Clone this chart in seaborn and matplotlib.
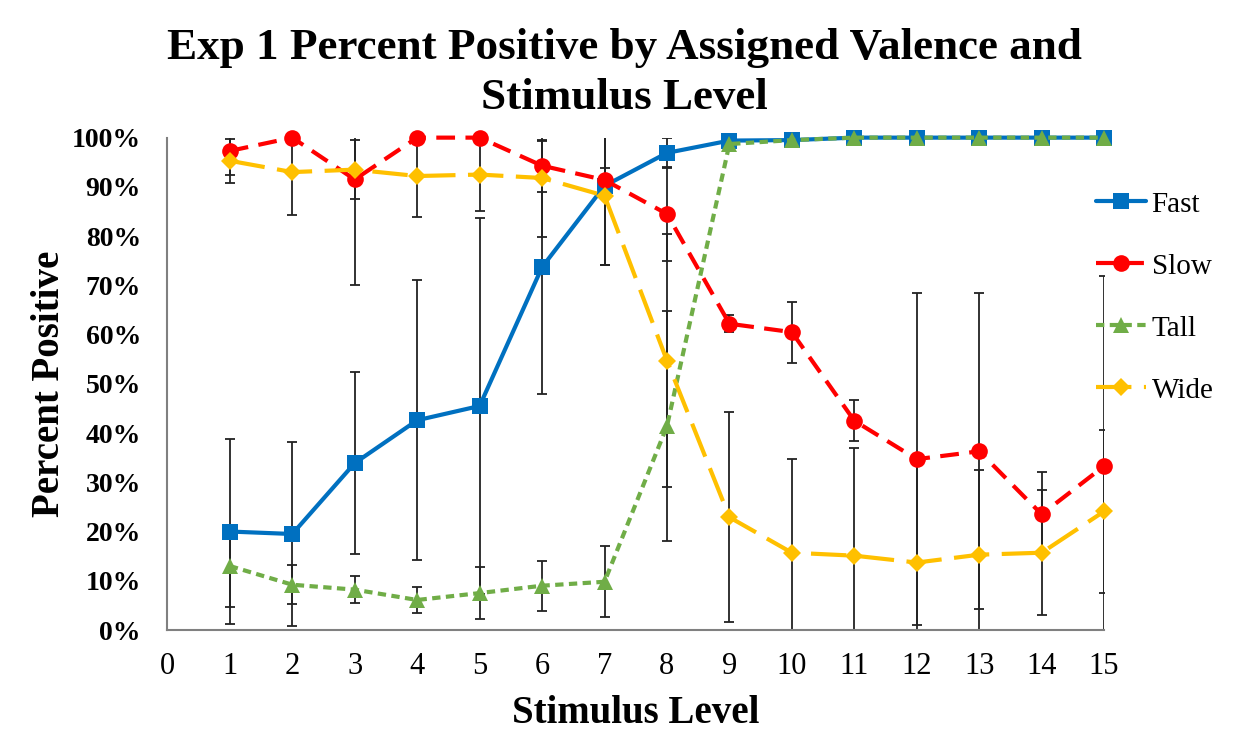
import matplotlib
matplotlib.use("Agg")
import matplotlib.pyplot as plt
import matplotlib.ticker as mtick
import numpy as np
import pandas as pd
import seaborn as sns

sns.set_style("white")
plt.rcParams["font.family"] = ["Liberation Serif", "DejaVu Serif"]
plt.rcParams.update({"text.color": "black", "axes.labelcolor": "black",
                     "xtick.color": "black", "ytick.color": "black"})

levels = list(range(1, 16))

fast = [20.0, 19.5, 33.9, 42.6, 45.5, 73.7, 90.2, 96.9, 99.4, 99.5, 100, 100, 100, 100, 100]
slow = [97.3, 100, 91.5, 100, 100, 94.3, 91.4, 84.5, 62.2, 60.5, 42.5, 34.7, 36.3, 23.5, 33.3]
tall = [13.0, 9.2, 8.2, 6.1, 7.5, 9.0, 9.8, 41.4, 98.7, 99.5, 100, 100, 100, 100, 100]
wide = [95.3, 93.0, 93.5, 92.2, 92.5, 91.8, 88.2, 54.7, 22.9, 15.7, 15.1, 13.7, 15.3, 15.7, 24.1]

fast_err = [18.8, 18.6, 18.4, 28.4, 38.2, 25.7, 16.0, 3.0, 0, 0, 0, 0, 0, 0, 0]
slow_err = [4.8, 0, 21.5, 0, 0, 5.3, 2.5, 9.5, 1.7, 6.2, 4.2, 33.7, 32.1, 8.5, 38.5]
tall_err = [8.3, 4.0, 2.8, 2.6, 5.2, 5.1, 7.2, 23.4, 0, 0, 0, 0, 0, 0, 0]
wide_err = [4.5, 8.7, 6.0, 8.3, 7.4, 12.0, 14.0, 25.7, 21.3, 19.0, 21.9, 20.0, 17.2, 12.7, 16.6]

names = ["Fast", "Slow", "Tall", "Wide"]
colors = {"Fast": "#0070C0", "Slow": "#FF0000", "Tall": "#70AD47", "Wide": "#FFC000"}
markers = {"Fast": "s", "Slow": "o", "Tall": "^", "Wide": "D"}
msizes = {"Fast": 11, "Slow": 12, "Tall": 11, "Wide": 9}
dashes = {"Fast": "", "Slow": (4.5, 2.5), "Tall": (2.0, 1.3), "Wide": (8.5, 3.0)}

vals = {"Fast": fast, "Slow": slow, "Tall": tall, "Wide": wide}
errs = {"Fast": fast_err, "Slow": slow_err, "Tall": tall_err, "Wide": wide_err}

df = pd.concat([
    pd.DataFrame({"level": levels, "pct": np.array(vals[n]) / 100, "err": np.array(errs[n]) / 100, "valence": n})
    for n in names
])

fig = plt.figure(figsize=(12.49, 7.36), dpi=100)
ax = fig.add_axes([0.134, 0.144, 0.75, 0.669])

# error bars first, under the lines
for n in names:
    d = df[df.valence == n]
    ax.errorbar(d.level, d.pct, yerr=d.err, fmt="none", ecolor="#222222",
                elinewidth=1.3, capsize=3.5, capthick=1.3, zorder=1)

# one call per series so each marker can get its own size
for n in names:
    sns.lineplot(data=df[df.valence == n], x="level", y="pct", color=colors[n],
                 marker=markers[n], dashes=False, linewidth=3, label=n,
                 markersize=msizes[n], markeredgewidth=0, ax=ax, zorder=3, clip_on=False)
    ln = ax.lines[-1]
    if dashes[n]:
        ln.set_dashes(dashes[n])

ax.set_xlim(0, 15)
ax.set_ylim(0, 1)
ax.set_xticks(range(0, 16))
ax.set_yticks(np.arange(0, 1.01, 0.1))
ax.yaxis.set_major_formatter(mtick.PercentFormatter(1.0, decimals=0))
ax.tick_params(axis="y", length=0, labelsize=20, pad=19)
ax.tick_params(axis="x", length=0, labelsize=22, pad=16)
for lab in ax.get_yticklabels():
    lab.set_fontweight("bold")

for s in ["top", "right"]:
    ax.spines[s].set_visible(False)
for s in ["left", "bottom"]:
    ax.spines[s].set_color("#808080")
    ax.spines[s].set_linewidth(1.5)

ax.set_xlabel("Stimulus Level", fontsize=28, fontweight="bold", labelpad=10)
ax.set_ylabel("Percent Positive", fontsize=28, fontweight="bold", labelpad=3)
fig.suptitle("Exp 1 Percent Positive by Assigned Valence and\nStimulus Level",
             fontsize=32.5, fontweight="bold", y=0.962, linespacing=1.32)

handles, labels = ax.get_legend_handles_labels()
ax.legend(handles, labels, loc="upper left", bbox_to_anchor=(0.866, 0.76),
          bbox_transform=fig.transFigure, frameon=False, fontsize=21,
          borderpad=0, labelspacing=1.22, handlelength=1.7, handletextpad=0.2)

fig.savefig("out.png", dpi=100)
